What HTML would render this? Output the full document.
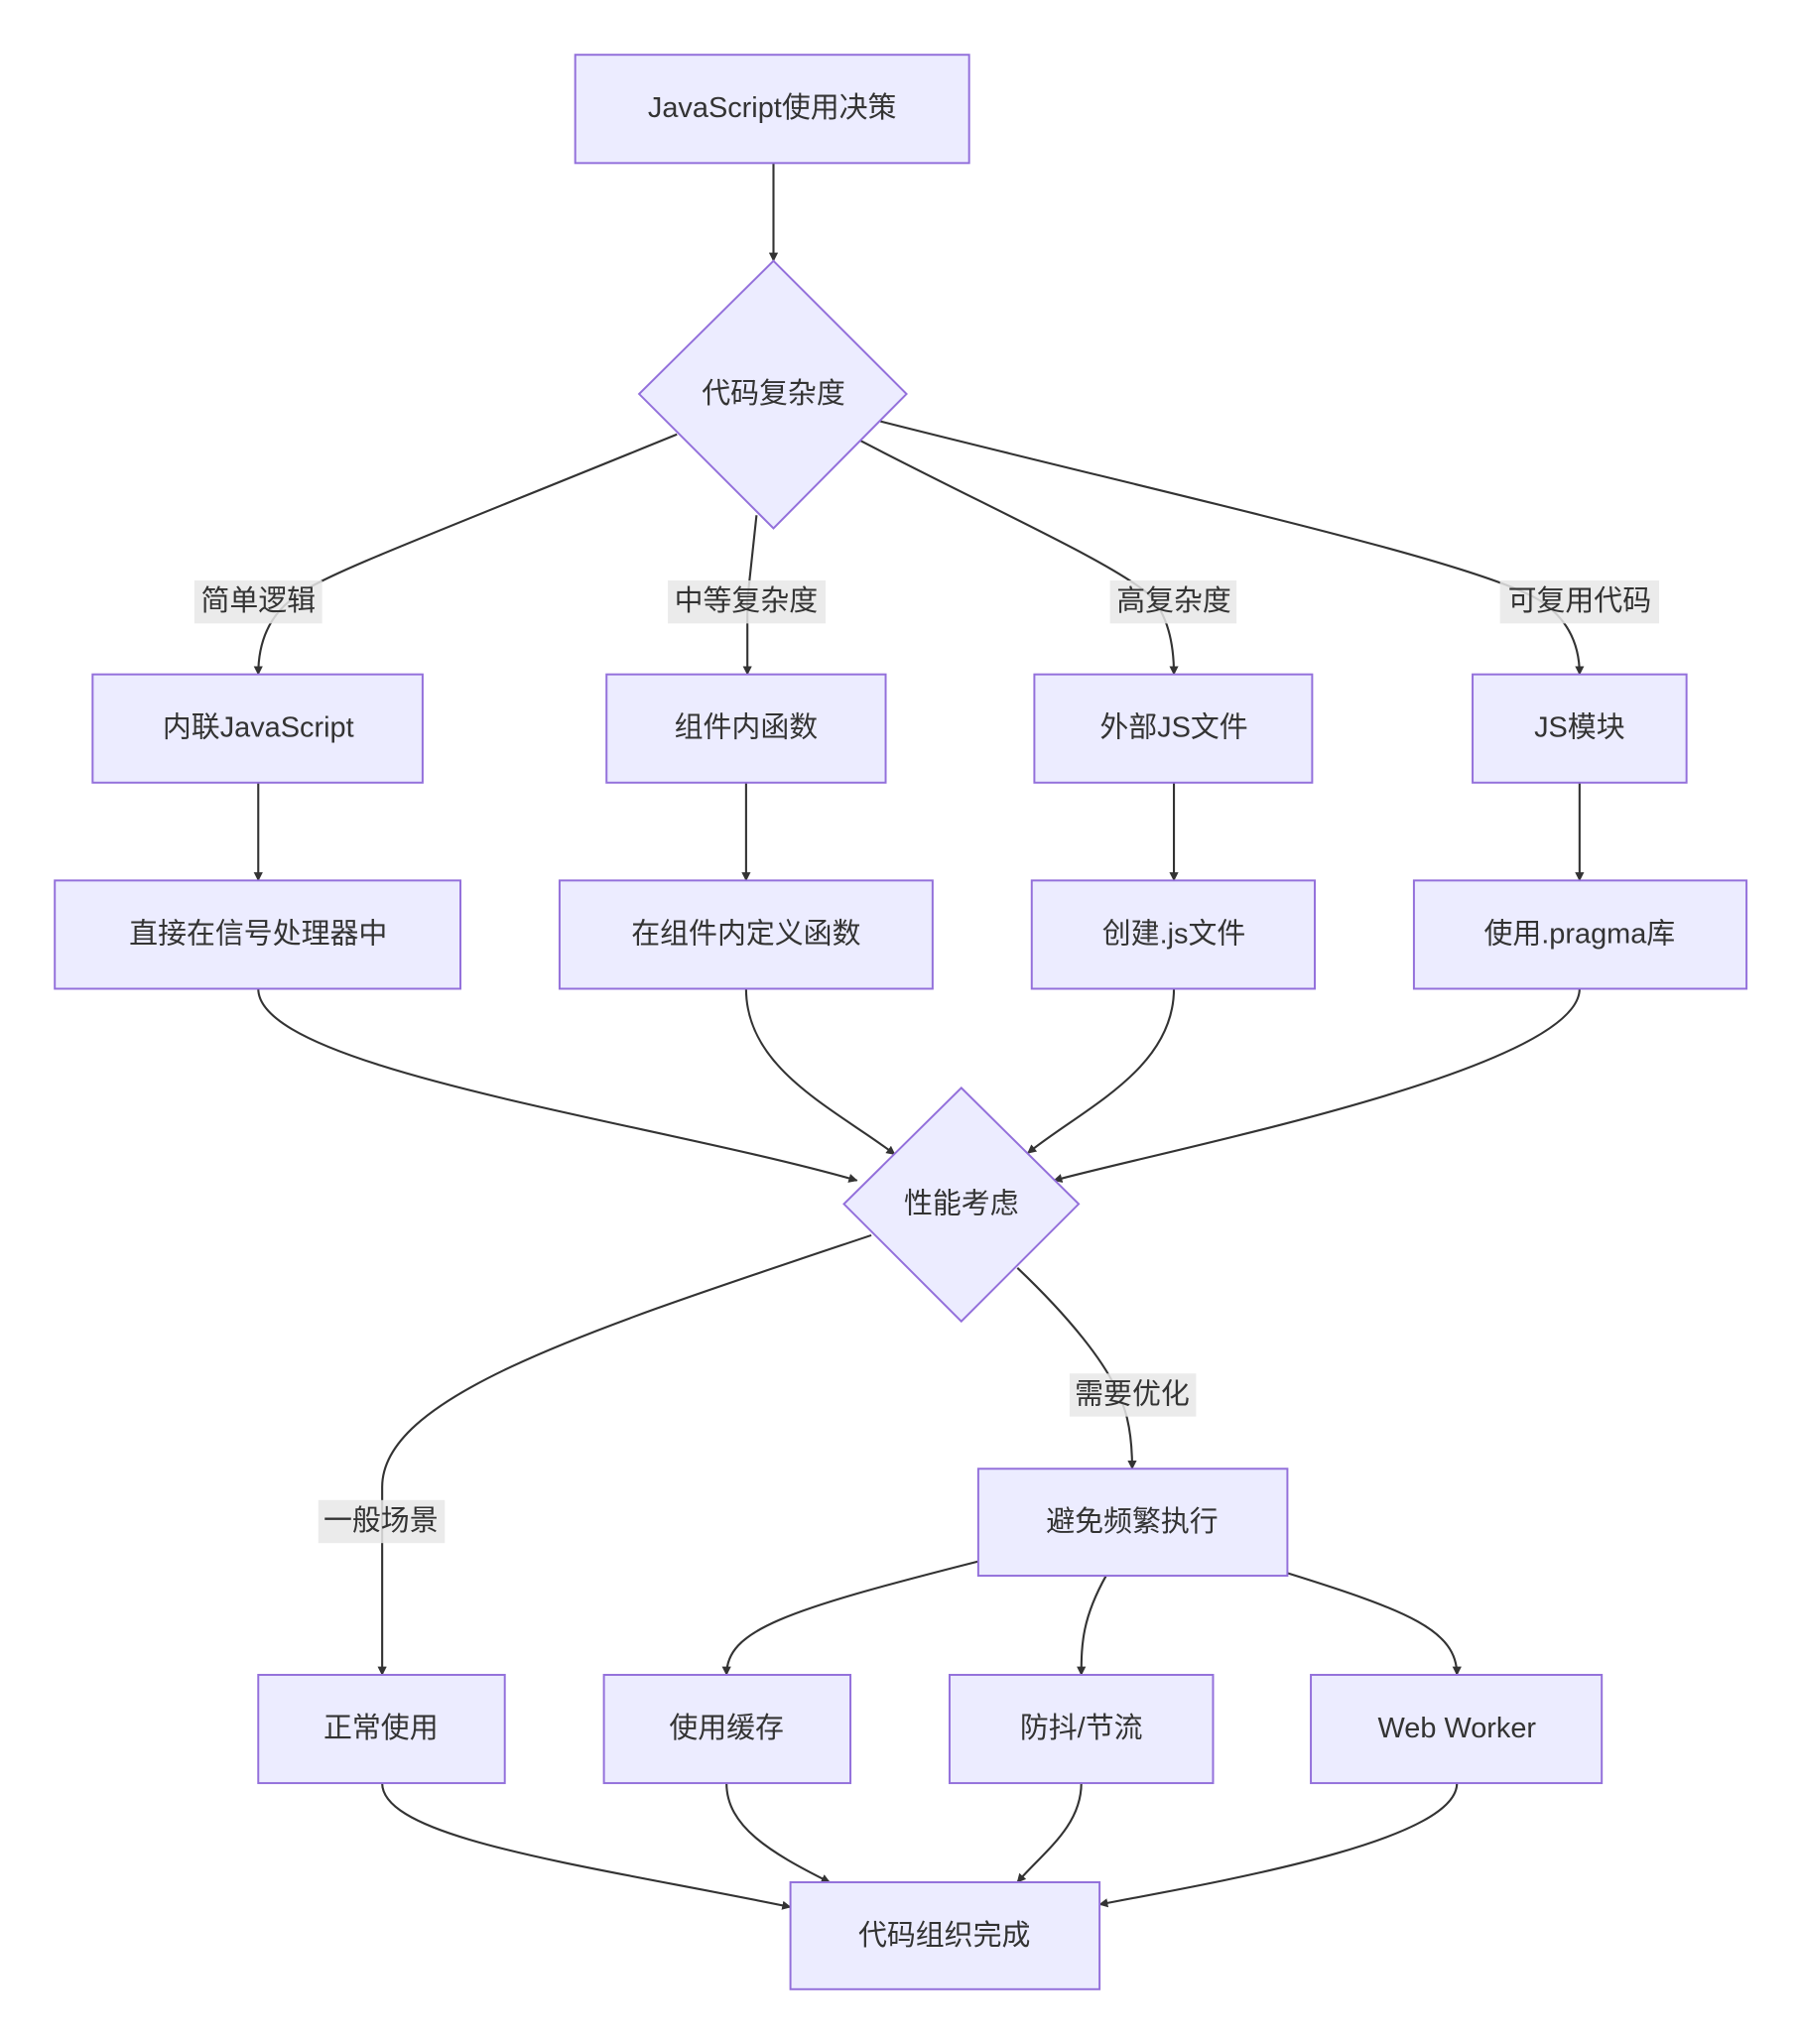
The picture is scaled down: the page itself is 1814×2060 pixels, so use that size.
<!DOCTYPE html>
<html><head><meta charset="utf-8">
<style>
html,body{margin:0;padding:0;background:#fff;}
svg{display:block;}
text{font-family:"Liberation Sans","Noto Sans CJK SC",sans-serif;font-size:22px;fill:#333;text-anchor:middle;dominant-baseline:central;}
.n{fill:#ECECFF;stroke:#9370DB;stroke-width:1.5;}
.e{fill:none;stroke:#333;stroke-width:1.6;marker-end:url(#a);}
.lb{fill:rgba(232,232,232,0.85);}
</style></head><body>
<svg width="1814" height="2060" viewBox="0 0 1380 1567" preserveAspectRatio="none">
<defs><marker id="a" viewBox="0 0 10 10" refX="9" refY="5" markerWidth="7" markerHeight="7" orient="auto" markerUnits="userSpaceOnUse"><path d="M0,0L10,5L0,10z" fill="#333"/></marker></defs>

<!-- edges -->
<path class="e" d="M593 125 L593 200"/>
<path class="e" d="M519 333 C330 410 250 440 230 455 Q198 475 198 517"/>
<path class="e" d="M580 395 L573 460 L573 517"/>
<path class="e" d="M660 338 C760 390 850 430 880 455 Q900 475 900 517"/>
<path class="e" d="M675 323 C900 380 1130 430 1180 460 Q1211 480 1211 517"/>
<path class="e" d="M198 600 L198 675"/>
<path class="e" d="M572 600 L572 675"/>
<path class="e" d="M900 600 L900 675"/>
<path class="e" d="M1211 600 L1211 675"/>
<path class="e" d="M198 758 C198 820 500 860 657 905"/>
<path class="e" d="M572 758 C572 820 640 850 686 885"/>
<path class="e" d="M900 758 C900 820 830 850 788 884"/>
<path class="e" d="M1211 758 C1211 820 900 880 808 905"/>
<path class="e" d="M668 947 C450 1020 293 1070 293 1140 L293 1284"/>
<path class="e" d="M780 972 C820 1010 848 1045 858 1070 Q868 1090 868 1126"/>
<path class="e" d="M750 1197 C600 1235 557 1250 557 1284"/>
<path class="e" d="M848 1208 C830 1240 829 1260 829 1284"/>
<path class="e" d="M987 1206 C1080 1235 1117 1250 1117 1284"/>
<path class="e" d="M293 1367 C293 1410 450 1430 606 1462"/>
<path class="e" d="M557 1367 C557 1400 590 1420 636 1443"/>
<path class="e" d="M829 1367 C829 1400 800 1420 780 1443"/>
<path class="e" d="M1117 1367 C1117 1410 950 1440 843 1460"/>

<!-- edge labels -->
<rect class="lb" x="149" y="445" width="98" height="33"/><text x="198" y="461">简单逻辑</text>
<rect class="lb" x="512" y="445" width="121" height="33"/><text x="572" y="461">中等复杂度</text>
<rect class="lb" x="851" y="445" width="97" height="33"/><text x="900" y="461">高复杂度</text>
<rect class="lb" x="1150" y="445" width="122" height="33"/><text x="1211" y="461">可复用代码</text>
<rect class="lb" x="244" y="1150" width="97" height="33"/><text x="292" y="1166">一般场景</text>
<rect class="lb" x="820" y="1053" width="97" height="33"/><text x="868" y="1069">需要优化</text>

<!-- nodes -->
<rect class="n" x="441" y="42" width="302" height="83"/><text x="592" y="83">JavaScript使用决策</text>
<polygon class="n" points="593,200 695,302 593,405 490,302"/><text x="593" y="302">代码复杂度</text>

<rect class="n" x="71" y="517" width="253" height="83"/><text x="198" y="558">内联JavaScript</text>
<rect class="n" x="465" y="517" width="214" height="83"/><text x="572" y="558">组件内函数</text>
<rect class="n" x="793" y="517" width="213" height="83"/><text x="900" y="558">外部JS文件</text>
<rect class="n" x="1129" y="517" width="164" height="83"/><text x="1211" y="558">JS模块</text>

<rect class="n" x="42" y="675" width="311" height="83"/><text x="198" y="716">直接在信号处理器中</text>
<rect class="n" x="429" y="675" width="286" height="83"/><text x="572" y="716">在组件内定义函数</text>
<rect class="n" x="791" y="675" width="217" height="83"/><text x="900" y="716">创建.js文件</text>
<rect class="n" x="1084" y="675" width="255" height="83"/><text x="1211" y="716">使用.pragma库</text>

<polygon class="n" points="737,834 827,923 737,1013 647,923"/><text x="737" y="923">性能考虑</text>

<rect class="n" x="750" y="1126" width="237" height="82"/><text x="868" y="1167">避免频繁执行</text>

<rect class="n" x="198" y="1284" width="189" height="83"/><text x="292" y="1325">正常使用</text>
<rect class="n" x="463" y="1284" width="189" height="83"/><text x="557" y="1325">使用缓存</text>
<rect class="n" x="728" y="1284" width="202" height="83"/><text x="829" y="1325">防抖/节流</text>
<rect class="n" x="1005" y="1284" width="223" height="83"/><text x="1117" y="1325">Web Worker</text>

<rect class="n" x="606" y="1443" width="237" height="82"/><text x="724" y="1484">代码组织完成</text>
</svg>
</body></html>
